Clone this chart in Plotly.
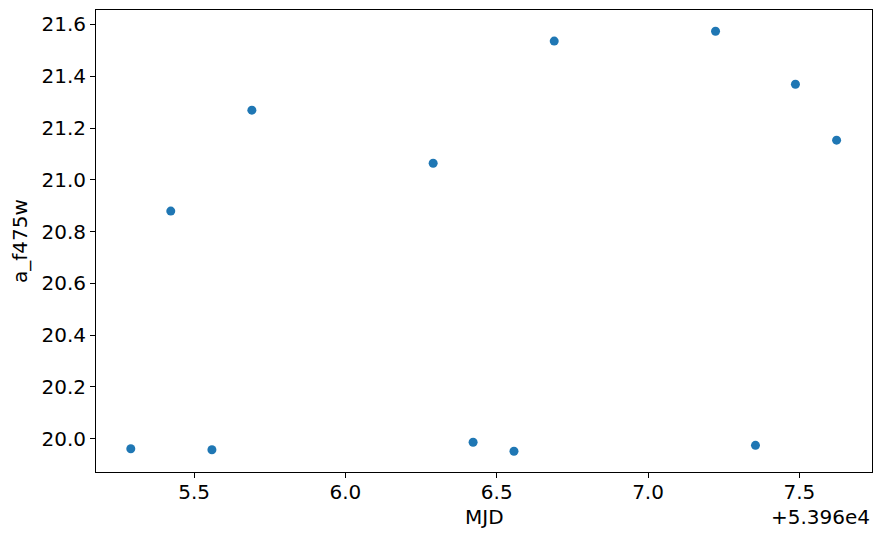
import plotly.graph_objects as go

offset = 53960.0
mjd = [53965.291, 53965.423, 53965.559, 53965.691, 53966.290, 53966.422,
       53966.557, 53966.690, 53967.223, 53967.355, 53967.487, 53967.623]
a_f475w = [19.961, 20.879, 19.957, 21.269, 21.064, 19.986,
           19.951, 21.536, 21.574, 19.974, 21.369, 21.153]
x_ticks = [5.5, 6.0, 6.5, 7.0, 7.5]
y_ticks = [20.0, 20.2, 20.4, 20.6, 20.8, 21.0, 21.2, 21.4, 21.6]

x_rel = [m - offset for m in mjd]

font = dict(family="DejaVu Sans", size=20, color="black")

fig = go.Figure(go.Scatter(
    x=x_rel, y=a_f475w, mode="markers",
    marker=dict(color="#1f77b4", size=9, line=dict(width=0)),
))

axis_common = dict(
    showgrid=False, zeroline=False, showline=True, linecolor="black", linewidth=1,
    mirror=True, ticks="outside", ticklen=5, tickwidth=1, tickcolor="black",
    tickfont=font,
)
fig.update_xaxes(range=[5.176, 7.740], tickvals=x_ticks, ticklabelstandoff=-3,
                 ticktext=[f"{v:.1f}" for v in x_ticks], **axis_common)
fig.update_yaxes(range=[19.871, 21.656], tickvals=y_ticks,
                 ticktext=[f"{v:.1f}" for v in y_ticks], **axis_common)

fig.update_layout(
    width=880, height=537,
    margin=dict(l=96, r=8, t=10, b=65),
    plot_bgcolor="white", paper_bgcolor="white",
    showlegend=False,
    font=font,
    annotations=[
        dict(text="MJD", xref="paper", yref="paper", x=0.5, y=-0.0975,
             xanchor="center", yanchor="middle", showarrow=False, font=font),
        dict(text="a_f475w", xref="paper", yref="paper", x=-0.098, y=0.5,
             xanchor="center", yanchor="middle", textangle=-90, showarrow=False, font=font),
        dict(text="+5.396e4", xref="paper", yref="paper", x=1.0, y=-0.0975,
             xanchor="right", yanchor="middle", showarrow=False, font=font),
    ],
)

fig.write_html("out.html")
